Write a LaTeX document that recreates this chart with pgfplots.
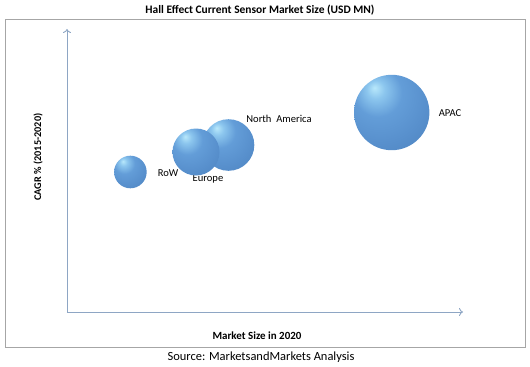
\documentclass[border=0pt]{standalone}
\usepackage{pgfplots}
\pgfplotsset{compat=1.18}
\usepackage{pgfplotstable}
\usepackage{fontspec}
\setmainfont{Carlito}
\usetikzlibrary{arrows.meta}

\definecolor{axisblue}{HTML}{8EA6C4}
\definecolor{frameg}{HTML}{A6A6A6}
\definecolor{bA}{HTML}{B8E8FB}
\definecolor{bB}{HTML}{8CC6EE}
\definecolor{bC}{HTML}{639DD8}
\definecolor{bD}{HTML}{5890CD}
\definecolor{bE}{HTML}{4D83BF}
\definecolor{bF}{HTML}{3A679B}
\definecolor{bG}{HTML}{2D5583}
\definecolor{bH}{HTML}{3A6798}

\pgfdeclareradialshading{myballsh}{\pgfpoint{-11.5bp}{16.5bp}}{%
  color(0bp)=(bA); color(6bp)=(bB); color(16bp)=(bC); color(30bp)=(bD);
  color(45bp)=(bE); color(55bp)=(bF); color(63bp)=(bG); color(69bp)=(bH); color(80bp)=(bH)}
\pgfdeclareplotmark{myball}{%
  \pgfpathcircle{\pgfpointorigin}{\pgfplotmarksize}%
  \pgfshadepath{myballsh}{0}%
  \pgfusepath{discard}}

% x, y (chart units), bubble radius (bp)
\pgfplotstableread{
x     y      r
130.4 192    16.3
228.5 219    25.8
196   212    23.5
391.7 251.5  37.7
}\bubbles

\begin{document}
\begin{tikzpicture}
\begin{axis}[
  scale only axis,
  width=396bp, height=283bp,
  xmin=67, xmax=463, ymin=52, ymax=335,
  axis x line*=bottom, axis y line*=left,
  xtick=\empty, ytick=\empty,
  x axis line style={color=axisblue, line width=0.9bp, -{To[length=4bp,width=8bp]}},
  y axis line style={color=axisblue, line width=0.9bp, -{To[length=4bp,width=8bp]}},
  clip=false,
]
\path (axis cs:0,0) rectangle (axis cs:530,364);
\draw[frameg, line width=0.9bp] (axis cs:5.7,17) rectangle (axis cs:525,344.7);
\addplot[scatter, only marks, mark=myball, point meta=\thisrow{r},
  visualization depends on={\thisrow{r}\as\rr},
  scatter/@pre marker code/.append style={/tikz/mark size=\rr bp}]
  table[x=x,y=y] {\bubbles};
\node[font=\fontsize{10.6}{12}\selectfont] at (axis cs:168,191) {RoW};
\node[font=\fontsize{10.6}{12}\selectfont] at (axis cs:208,185) {Europe};
\node[font=\fontsize{10.6}{12}\selectfont] at (axis cs:279,245) {North\ \ America};
\node[font=\fontsize{10.6}{12}\selectfont] at (axis cs:450,251) {APAC};
\node[font=\fontsize{11.5}{13}\selectfont\bfseries] at (axis cs:260,354) {Hall Effect Current Sensor Market Size (USD MN)};
\node[font=\fontsize{11}{12}\selectfont\bfseries] at (axis cs:257,28) {Market Size in 2020};
\node[font=\fontsize{10.3}{12}\selectfont\bfseries, rotate=90] at (axis cs:38,207) {CAGR \% (2015-2020)};
\node[font=\fontsize{12.5}{14}\selectfont] at (axis cs:261,6.5) {Source: MarketsandMarkets Analysis};
\end{axis}
\end{tikzpicture}
\end{document}
